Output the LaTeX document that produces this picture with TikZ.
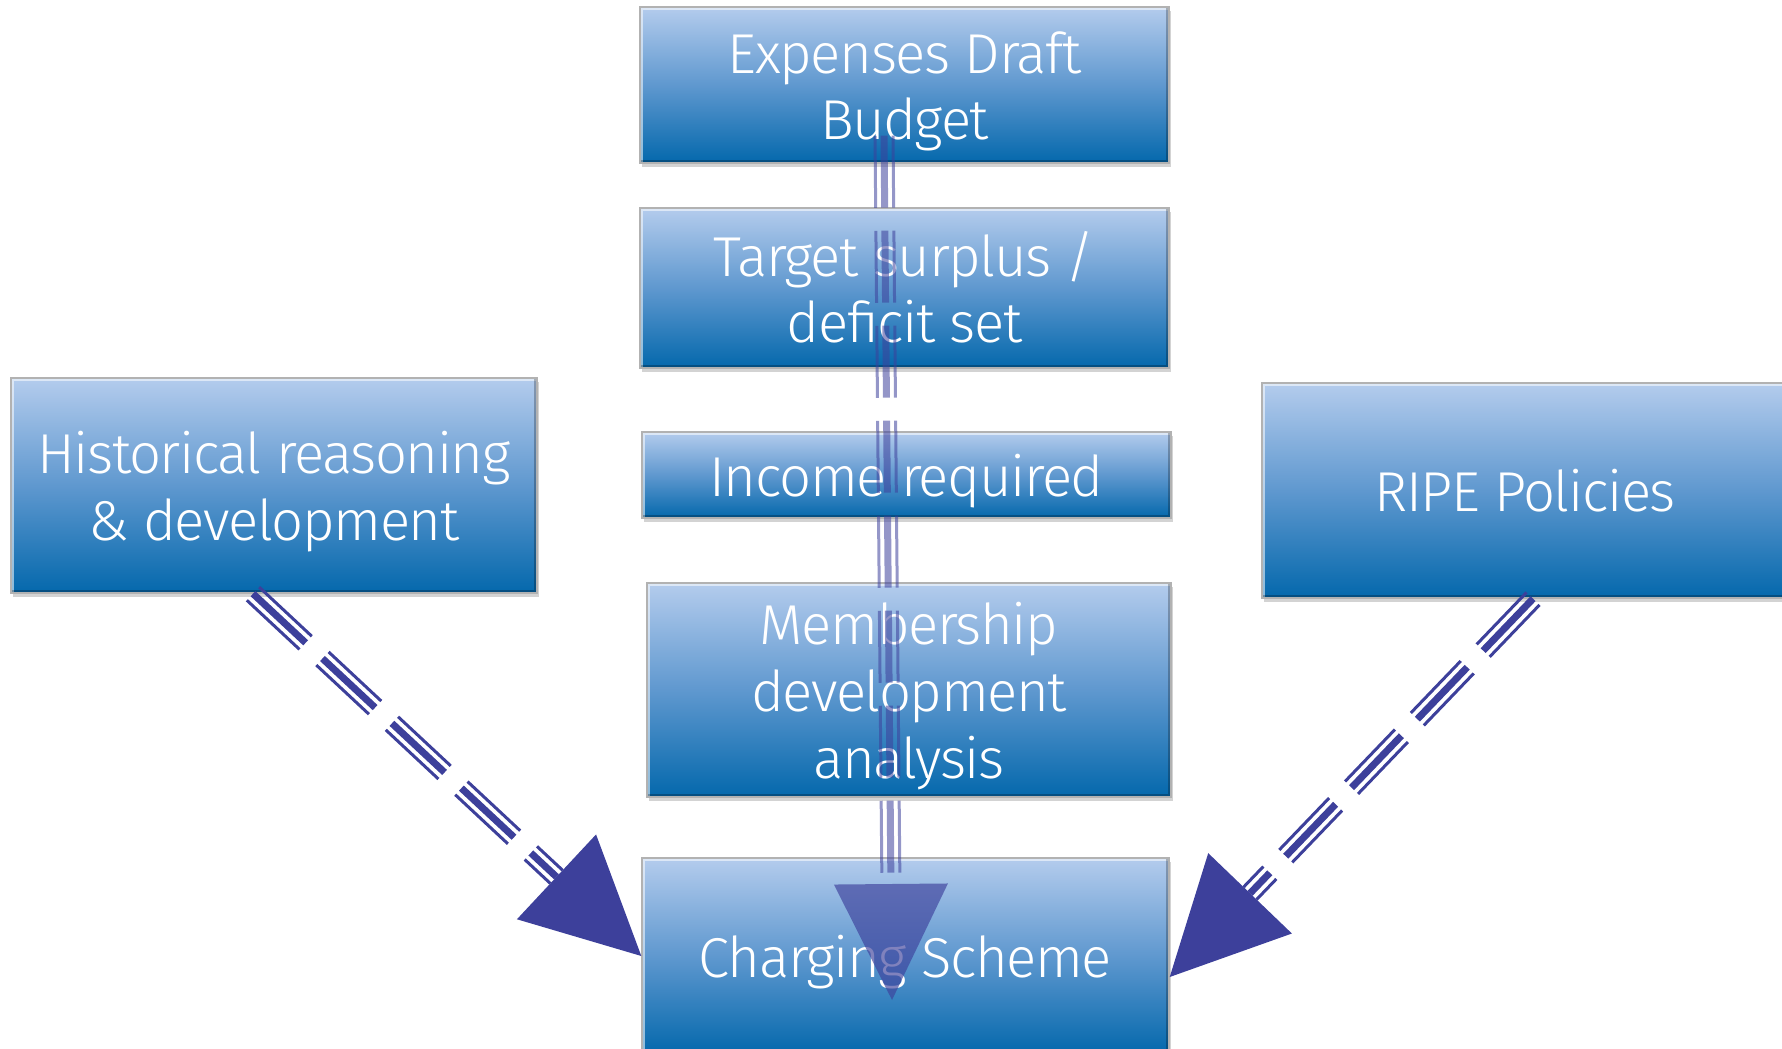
\documentclass[tikz,border=0pt]{standalone}
\usepackage{fontspec}
\setmainfont{Fira Sans}[UprightFont=* Light, LetterSpace=-2.5]
\usetikzlibrary{shadows, calc}
\definecolor{boxtop}{RGB}{180,204,237}
\definecolor{boxmid}{RGB}{95,152,207}
\definecolor{boxbot}{RGB}{4,104,172}
\definecolor{arrowblue}{RGB}{61,64,155}
\newcommand{\vstrut}{\rule[-3.4pt]{0pt}{19pt}}
\tikzstyle{stage} = [rectangle, minimum width=5.29cm, minimum height=1.56cm, inner sep=0pt, text centered, align=center, draw=gray!60, top color=boxtop, bottom color=boxbot, middle color=boxmid, text=white, font=\fontsize{16}{19}\selectfont, drop shadow={opacity=0.35, shadow xshift=0.02cm, shadow yshift=-0.04cm}, path picture={
  \draw[white, opacity=0.55, line width=0.06cm] (path picture bounding box.south west) -- (path picture bounding box.north west) -- (path picture bounding box.north east);
  \draw[black, opacity=0.25, line width=0.06cm] (path picture bounding box.north east) -- (path picture bounding box.south east) -- (path picture bounding box.south west);}]
\tikzstyle{thinline} = [draw=arrowblue, line width=0.03cm, dash pattern=on 0.72cm off 0.23cm]
\tikzstyle{thickline} = [draw=arrowblue, line width=0.07cm, dash pattern=on 0.72cm off 0.23cm]
\tikzstyle{head} = [fill=arrowblue]
% three parallel dashed strokes from #2 to #3
\newcommand{\flow}[3][]{%
  \draw[thinline,#1] ($(#2)!0.09cm!90:(#3)$) -- ($(#3)!0.09cm!-90:(#2)$);
  \draw[thinline,#1] ($(#2)!0.09cm!-90:(#3)$) -- ($(#3)!0.09cm!90:(#2)$);
  \draw[thickline,#1] (#2) -- (#3);
}
% triangle head, base centre #2, point #3
\newcommand{\tip}[4][]{%
  \path[head,#1] (#3) -- ($(#2)!#4!90:(#3)$) -- ($(#2)!#4!-90:(#3)$) -- cycle;
}

\begin{document}
\begin{tikzpicture}[node distance=2cm]
\useasboundingbox (0,0) rectangle (17.82,-10.49);
\node (budget) [stage, minimum height=1.56cm] at (9.045,-0.85) {\vstrut Expenses Draft\\\vstrut Budget};
\node (target) [stage, below of=budget, yshift=-0.03cm, minimum height=1.60cm] {\vstrut Target surplus /\\\vstrut deficit set};
\node (income) [stage, below of=target, xshift=0.02cm, yshift=0.13cm, minimum height=0.86cm] {\vstrut Income required};
\node (member) [stage, below of=income, xshift=0.025cm, yshift=-0.15cm, minimum width=5.24cm, minimum height=2.14cm] {\vstrut Membership\\\vstrut development\\\vstrut analysis};
\node (charge) [stage, below of=member, xshift=-0.035cm, yshift=-0.66cm, minimum width=5.27cm, minimum height=1.96cm] {\vstrut Charging Scheme};
\node (hist) [stage, left of=income, xshift=-4.325cm, yshift=-0.105cm, minimum width=5.26cm, minimum height=2.15cm] {\vstrut Historical reasoning\\\vstrut \& development};
\node (ripe) [stage, right of=income, xshift=4.185cm, yshift=-0.155cm, minimum width=5.26cm, minimum height=2.15cm] {\vstrut RIPE Policies};
%% connectors
\coordinate (h1) at ([xshift=-0.21cm]hist.south);
\coordinate (t1) at (charge.west);
\coordinate (b1) at ($(t1)!1.16cm!(h1)$);
\coordinate (h2) at ([xshift=0.08cm]ripe.south);
\coordinate (t2) at ([yshift=-0.21cm]charge.east);
\coordinate (b2) at ($(t2)!1.16cm!(h2)$);
\coordinate (h3) at ([xshift=-0.205cm, yshift=0.28cm]budget.south);
\coordinate (t3) at ([xshift=-0.135cm, yshift=-0.44cm]charge.center);
\coordinate (b3) at ($(t3)!1.16cm!(h3)$);
\flow{h1}{b1}
\tip{b1}{t1}{0.58cm}
\flow{h2}{b2}
\tip{b2}{t2}{0.58cm}
\flow[opacity=0.55]{h3}{b3}
\tip[opacity=0.65]{b3}{t3}{0.57cm}
\end{tikzpicture}
\end{document}
